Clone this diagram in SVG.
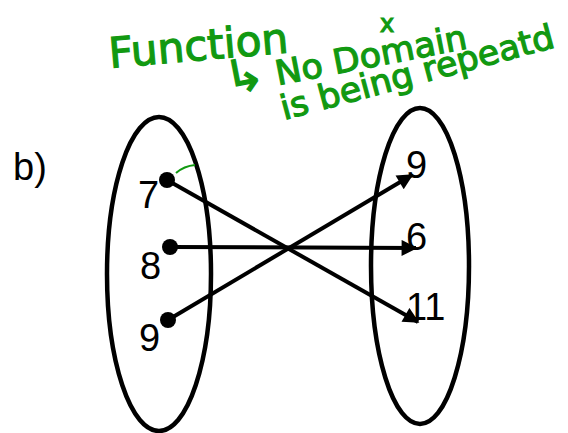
<svg xmlns="http://www.w3.org/2000/svg" width="568" height="433" viewBox="0 0 568 433">
<style>
.set{fill:none;stroke:#000;stroke-width:4.5}
.num{font-family:"Liberation Sans",Arial,sans-serif;font-size:38px;fill:#000}
.hw{font-family:"DejaVu Sans","Liberation Sans",sans-serif;fill:#119911;stroke:#119911;stroke-width:1.2}
.edge{stroke:#000;stroke-width:4;fill:none;marker-end:url(#ah)}
</style>
<defs>
<marker id="ah" viewBox="0 0 10 10" refX="9" refY="5" markerWidth="4.5" markerHeight="4" orient="auto" markerUnits="strokeWidth">
<path d="M0,0 L10,5 L0,10 z" fill="#000"/>
</marker>
</defs>
<rect width="568" height="433" fill="#fff"/>
<g id="notes">
<text class="hw" x="110" y="68" font-size="42" textLength="180" lengthAdjust="spacingAndGlyphs" transform="rotate(-5 110 68)">Function</text>
<text class="hw" x="228" y="95" font-size="34" textLength="245" lengthAdjust="spacingAndGlyphs" transform="rotate(-11 228 95)"><tspan font-size="46">↳</tspan> No Domain</text>
<text class="hw" x="380" y="32" font-size="24">x</text>
<text class="hw" x="284" y="120" font-size="34" textLength="282" lengthAdjust="spacingAndGlyphs" transform="rotate(-15 284 120)">is being repeatd</text>
</g>
<text id="label-b" class="num" x="13" y="180">b)</text>
<g id="domain">
<ellipse class="set" cx="159" cy="274" rx="52" ry="157"/>
<text class="num" x="138" y="208">7</text>
<text class="num" x="140" y="279">8</text>
<text class="num" x="139" y="351">9</text>
</g>
<g id="range">
<ellipse class="set" cx="420" cy="266" rx="49" ry="158"/>
<text class="num" x="406" y="178">9</text>
<text class="num" x="406" y="250">6</text>
<text class="num" x="406" y="320">11</text>
</g>
<g id="connectors">
<path class="edge" d="M167,180 L418,322"/>
<path class="edge" d="M170,247 L416,248"/>
<path class="edge" d="M168,320 L412,175"/>
<path d="M176,173 Q184,166 195,165" stroke="#119911" stroke-width="2" fill="none"/>
</g>
<g id="points">
<circle cx="167" cy="180" r="8"/>
<circle cx="170" cy="247" r="8"/>
<circle cx="168" cy="320" r="8"/>
</g>
</svg>
